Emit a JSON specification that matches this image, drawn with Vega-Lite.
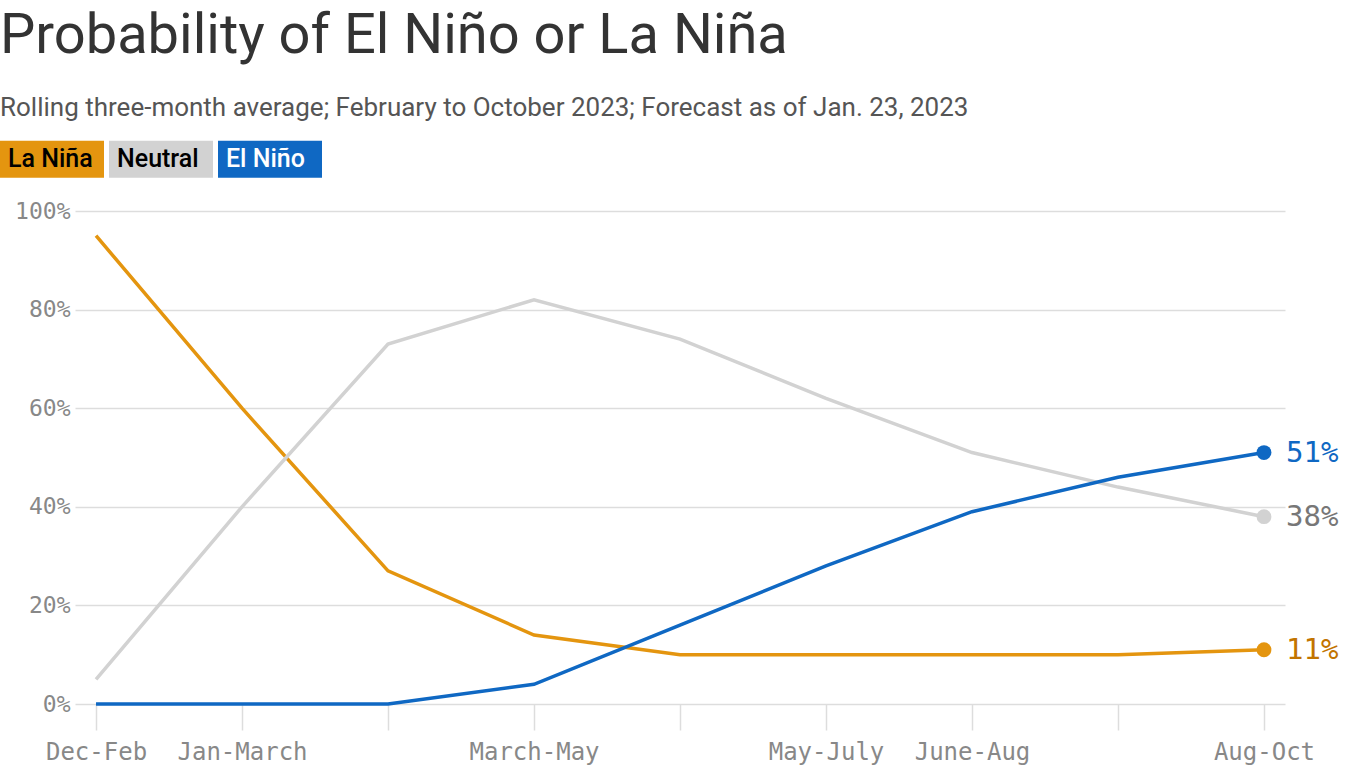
{
  "$schema": "https://vega.github.io/schema/vega-lite/v6.json",
  "width": 1210,
  "height": 493,
  "autosize": {"type": "none"},
  "padding": {"left": 75, "top": 211, "right": 81, "bottom": 64},
  "background": "#ffffff",
  "title": {
    "text": "Probability of El Niño or La Niña",
    "subtitle": "Rolling three-month average; February to October 2023; Forecast as of Jan. 23, 2023",
    "anchor": "start",
    "frame": "group",
    "dx": -75,
    "offset": -15,
    "font": "Roboto",
    "fontSize": 56,
    "fontWeight": "normal",
    "color": "#333333",
    "subtitleFont": "Roboto",
    "subtitleFontSize": 26,
    "subtitleColor": "#555555",
    "subtitlePadding": 30
  },
  "config": {
    "view": {"stroke": null},
    "font": "Roboto"
  },
  "data": {
    "values": [
      {"period": "Dec-Feb", "series": "La Niña", "value": 0.95},
      {"period": "Jan-March", "series": "La Niña", "value": 0.60},
      {"period": "Feb-Apr", "series": "La Niña", "value": 0.27},
      {"period": "March-May", "series": "La Niña", "value": 0.14},
      {"period": "Apr-June", "series": "La Niña", "value": 0.10},
      {"period": "May-July", "series": "La Niña", "value": 0.10},
      {"period": "June-Aug", "series": "La Niña", "value": 0.10},
      {"period": "July-Sep", "series": "La Niña", "value": 0.10},
      {"period": "Aug-Oct", "series": "La Niña", "value": 0.11},
      {"period": "Dec-Feb", "series": "Neutral", "value": 0.05},
      {"period": "Jan-March", "series": "Neutral", "value": 0.40},
      {"period": "Feb-Apr", "series": "Neutral", "value": 0.73},
      {"period": "March-May", "series": "Neutral", "value": 0.82},
      {"period": "Apr-June", "series": "Neutral", "value": 0.74},
      {"period": "May-July", "series": "Neutral", "value": 0.62},
      {"period": "June-Aug", "series": "Neutral", "value": 0.51},
      {"period": "July-Sep", "series": "Neutral", "value": 0.44},
      {"period": "Aug-Oct", "series": "Neutral", "value": 0.38},
      {"period": "Dec-Feb", "series": "El Niño", "value": 0.0},
      {"period": "Jan-March", "series": "El Niño", "value": 0.0},
      {"period": "Feb-Apr", "series": "El Niño", "value": 0.0},
      {"period": "March-May", "series": "El Niño", "value": 0.04},
      {"period": "Apr-June", "series": "El Niño", "value": 0.16},
      {"period": "May-July", "series": "El Niño", "value": 0.28},
      {"period": "June-Aug", "series": "El Niño", "value": 0.39},
      {"period": "July-Sep", "series": "El Niño", "value": 0.46},
      {"period": "Aug-Oct", "series": "El Niño", "value": 0.51}
    ]
  },
  "encoding": {
    "x": {
      "field": "period",
      "type": "ordinal",
      "sort": ["Dec-Feb", "Jan-March", "Feb-Apr", "March-May", "Apr-June", "May-July", "June-Aug", "July-Sep", "Aug-Oct"],
      "scale": {"type": "point", "padding": 0.144},
      "axis": {
        "title": null,
        "domain": false,
        "ticks": true,
        "tickColor": "#dddddd",
        "tickWidth": 1.5,
        "tickSize": 26,
        "labelPadding": 10,
        "labelAngle": 0,
        "labelOverlap": false,
        "labelFont": "DejaVu Sans Mono",
        "labelFontSize": 24,
        "labelColor": "#888888",
        "labelExpr": "indexof(['Feb-Apr','Apr-June','July-Sep'], datum.label) >= 0 ? '' : datum.label",
        "grid": false
      }
    },
    "y": {
      "field": "value",
      "type": "quantitative",
      "scale": {"domain": [0, 1]},
      "axis": {
        "title": null,
        "domain": false,
        "ticks": false,
        "grid": true,
        "gridColor": "#dddddd",
        "gridWidth": 1.5,
        "values": [0, 0.2, 0.4, 0.6, 0.8, 1],
        "format": ".0%",
        "labelPadding": 5,
        "labelFont": "DejaVu Sans Mono",
        "labelFontSize": 23,
        "labelColor": "#888888"
      }
    },
    "color": {
      "field": "series",
      "type": "nominal",
      "scale": {
        "domain": ["La Niña", "Neutral", "El Niño"],
        "range": ["#e4950f", "#d2d2d2", "#0f68c3"]
      },
      "legend": {
        "title": null,
        "orient": "none",
        "legendX": -75,
        "legendY": -104,
        "direction": "horizontal",
        "padding": 0,
        "columnPadding": 5,
        "symbolType": "M-1,-0.356H1V0.356H-1Z",
        "symbolSize": 10816,
        "symbolStrokeWidth": 0,
        "symbolOpacity": 1,
        "labelOffset": -96,
        "labelFont": "Roboto",
        "labelFontSize": 25,
        "labelFontWeight": 500,
        "labelColor": "#000000",
        "encode": {
          "symbols": {
            "update": {
              "fill": {"signal": "scale('color', datum.value)"},
              "stroke": {"value": "transparent"},
              "opacity": {"value": 1}
            }
          },
          "labels": {
            "update": {
              "fill": {"signal": "datum.value === 'El Niño' ? '#ffffff' : '#000000'"}
            }
          }
        }
      }
    }
  },
  "layer": [
    {
      "mark": {"type": "line", "strokeWidth": 3.5}
    },
    {
      "transform": [{"filter": "datum.period === 'Aug-Oct'"}],
      "mark": {"type": "point", "filled": true, "size": 220, "opacity": 1}
    },
    {
      "transform": [{"filter": "datum.period === 'Aug-Oct'"}],
      "mark": {"type": "text", "align": "left", "baseline": "middle", "dx": 22, "font": "DejaVu Sans Mono", "fontSize": 29},
      "encoding": {
        "text": {"field": "value", "type": "quantitative", "format": ".0%"},
        "color": {
          "condition": [
            {"test": "datum.series === 'El Niño'", "value": "#0f68c3"},
            {"test": "datum.series === 'Neutral'", "value": "#777777"}
          ],
          "value": "#c27400"
        }
      }
    }
  ]
}
